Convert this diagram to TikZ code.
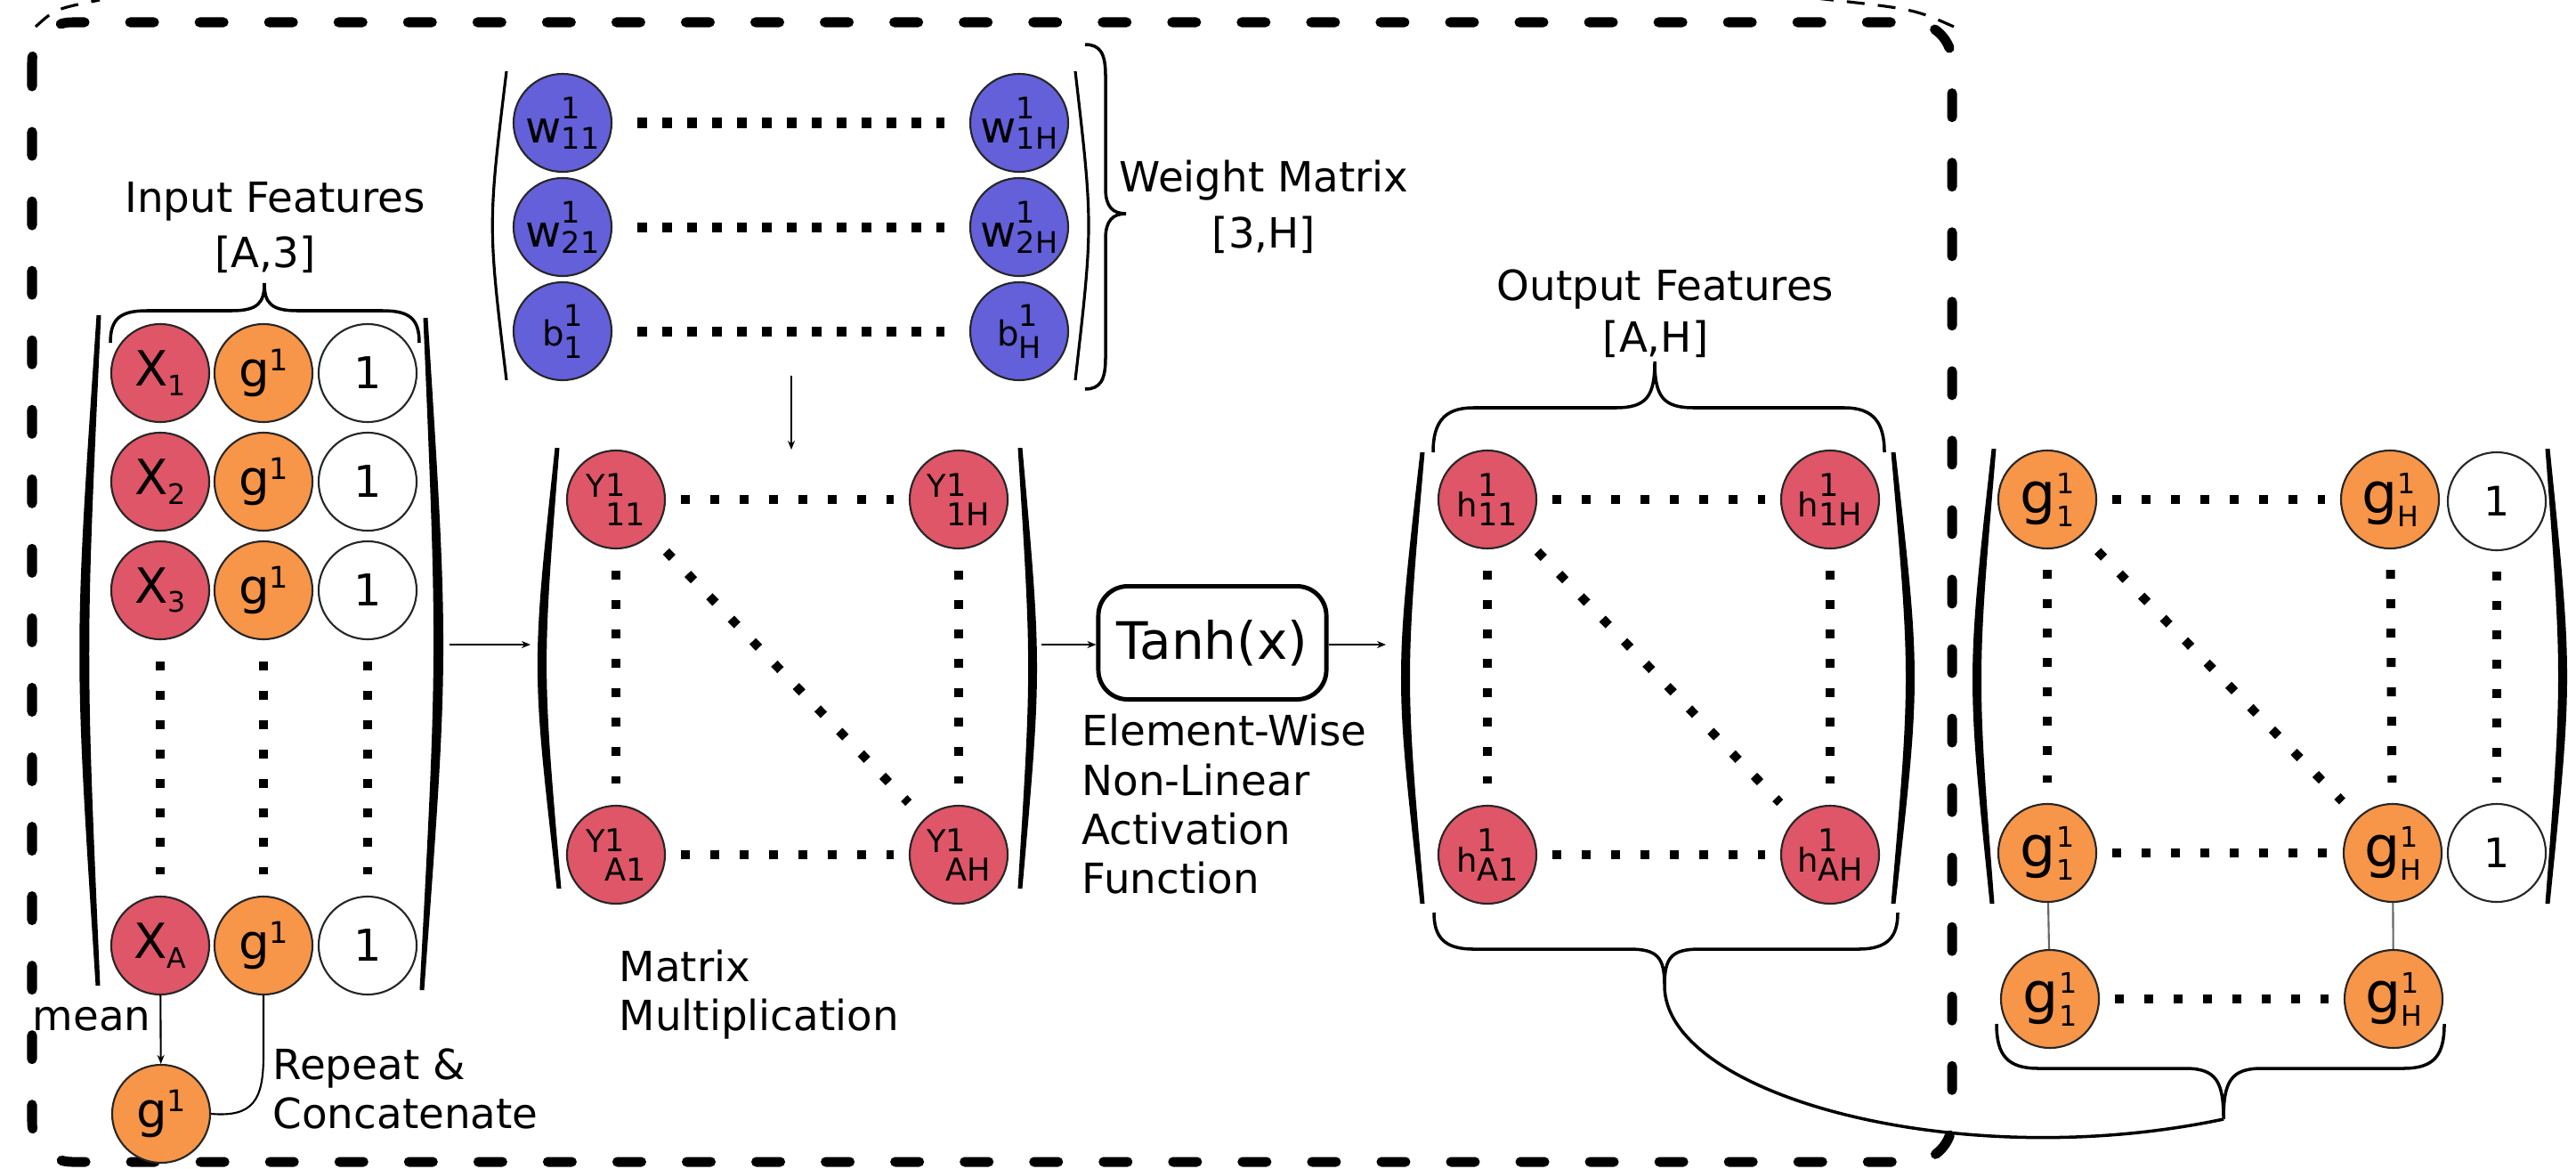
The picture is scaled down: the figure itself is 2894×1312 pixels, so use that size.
\documentclass[tikz,border=0pt]{standalone}
\usepackage{fontspec}
\setmainfont{DejaVu Sans}
\usetikzlibrary{arrows.meta}
\definecolor{cred}{RGB}{222,86,103}
\definecolor{corange}{RGB}{247,149,72}
\definecolor{cblue}{RGB}{99,96,218}
\newcommand\lab[7]{{\fontsize{#4}{#4}\selectfont #1}{\fontsize{#5}{#5}\selectfont\rlap{\raisebox{#6}{#2}}\raisebox{-#7}{#3}}}
\newcommand\wlab[1]{\lab{w}{1}{#1}{14pt}{9.5pt}{7.7pt}{2pt}}
\newcommand\blab[1]{\lab{b}{1}{#1}{11pt}{9.5pt}{6.3pt}{4pt}}
\newcommand\ylab[1]{\lab{Y}{1}{#1}{10pt}{10pt}{0.5pt}{9pt}}
\newcommand\hlab[1]{\lab{h}{1}{#1}{10.5pt}{10pt}{6.5pt}{2.8pt}}
\newcommand\grlab[1]{\lab{g}{1}{#1}{18pt}{9pt}{6.5pt}{4pt}}
\newcommand\xlab[1]{\lab{X}{}{#1}{15.5pt}{9pt}{0pt}{3pt}}
\newcommand\glab{{\fontsize{15.5pt}{15.5pt}\selectfont g}{\fontsize{9.5pt}{9.5pt}\selectfont\raisebox{5pt}{1}}}
\newcommand\onelab{{\fontsize{14pt}{14pt}\selectfont 1}}
\newcommand\onelabs{{\fontsize{13pt}{13pt}\selectfont 1}}
\begin{document}
\begin{tikzpicture}[x=0.01cm,y=-0.01cm,
 nd/.style={circle,minimum size=1.1cm,inner sep=0pt,draw=black!85,line width=0.6pt},
 rn/.style={nd,fill=cred},
 onode/.style={nd,fill=corange},
 bn/.style={nd,fill=cblue},
 wn/.style={nd,fill=white},
 dotl/.style={line width=0.1cm,dash pattern=on 0.1cm off 0.23cm},
 ddot/.style={line width=0.1cm,dash pattern=on 0.1cm off 0.25cm},
 wdot/.style={line width=0.11cm,dash pattern=on 0.11cm off 0.17cm},
 shr/.style={shorten <=#1,shorten >=#1},
 thinp/.style={line width=0.9pt},
 brc/.style={line width=1pt},
 arr/.style={line width=0.6pt,-{Stealth[length=0.1cm,width=0.08cm]}},
 lbl/.style={font=\fontsize{13.3pt}{16pt}\selectfont,inner sep=0pt},
 dborder/.style={line width=0.11cm,line cap=round,dash pattern=on 0.27cm off 0.51cm},
 gline/.style={draw=black!60,line width=0.6pt}
]
\fill[white] (0,0) rectangle (2894,1312);
\useasboundingbox (0,0) rectangle (2894,1312);

% dashed frame
\draw[dborder,rounded corners=0.45cm] (36,25) rectangle (2193,1305);
\draw[line width=0.9pt,dash pattern=on 0.2cm off 0.15cm] (40,30) .. controls (62,10) .. (112,0);
\draw[line width=0.9pt,dash pattern=on 0.2cm off 0.15cm] (2040,-2) .. controls (2150,10) .. (2195,30);

% ---------- input matrix ----------
\foreach \r/\yy/\s in {1/419/1,2/541/2,3/663/3,A/1062/A}{
  \node[rn] (x\r) at (180,\yy) {\xlab{\s}};
  \node[onode] (g\r) at (296,\yy) {\glab};
  \node[wn] (o\r) at (413,\yy) {\onelab};
}
\draw[dotl,shr=0.24cm] (x3) -- (xA);
\draw[dotl,shr=0.24cm] (g3) -- (gA);
\draw[dotl,shr=0.24cm] (o3) -- (oA);
\fill (108.5,354) .. controls (83,730) .. (107.5,1107) -- (112.5,1107) .. controls (96,730) .. (113.5,354) -- cycle;
\fill (480.5,357) .. controls (504.5,735) .. (476.5,1112) -- (471.5,1112) .. controls (491.5,735) .. (475.5,357) -- cycle;
\draw[brc] (124,385) .. controls (124,358) and (135,349) .. (165,349) -- (260,349) .. controls (290,349) and (297,340) .. (297,318)
  .. controls (297,340) and (304,349) .. (334,349) -- (430,349) .. controls (460,349) and (471,358) .. (471,385);
\node[lbl,anchor=base] (inf1) at (309,238) {Input Features};
\node[lbl,anchor=base] (inf2) at (298,300) {[A,3]};

\node[onode] (gm) at (181,1251) {\glab};
\draw[arr] (xA) -- (gm);
\draw[line width=0.6pt] (gm.east) .. controls (285,1255) and (296,1235) .. (296,1185) -- (gA.south);
\node[lbl,anchor=base] (mean) at (103,1157) {mean};
\node[lbl,anchor=base west] (rc1) at (306,1212) {Repeat \&};
\node[lbl,anchor=base west] (rc2) at (306,1267) {Concatenate};

% ---------- weight matrix ----------
\node[bn] (w11) at (632,138) {\wlab{11}};
\node[bn] (w21) at (632,255) {\wlab{21}};
\node[bn] (b1) at (632,372) {\blab{1}};
\node[bn] (w1H) at (1145,138) {\wlab{1H}};
\node[bn] (w2H) at (1145,255) {\wlab{2H}};
\node[bn] (bH) at (1145,372) {\blab{H}};
\draw[wdot,shr=0.28cm] (w11) -- (w1H);
\draw[wdot,shr=0.28cm] (w21) -- (w2H);
\draw[wdot,shr=0.28cm] (b1) -- (bH);
\draw[thinp] (569,80) .. controls (548,253) .. (569,427);
\draw[thinp] (1208,80) .. controls (1228,253) .. (1208,427);
\draw[brc] (1219,50) .. controls (1236,50) and (1242,60) .. (1242,85) -- (1242,212) .. controls (1242,232) and (1250,240) .. (1265,240)
  .. controls (1250,240) and (1242,248) .. (1242,268) -- (1242,402) .. controls (1242,427) and (1236,437) .. (1219,437);
\node[lbl,anchor=base] (wm1) at (1420,215) {Weight Matrix};
\node[lbl,anchor=base] (wm2) at (1420,278) {[3,H]};

% ---------- Y matrix ----------
\node[rn] (y11) at (692,561) {\ylab{11}};
\node[rn] (y1H) at (1077,561) {\ylab{1H}};
\node[rn] (yA1) at (692,960) {\ylab{A1}};
\node[rn] (yAH) at (1077,960) {\ylab{AH}};
\draw[dotl,shr=0.17cm] (y11) -- (y1H);
\draw[dotl,shr=0.17cm] (yA1) -- (yAH);
\draw[dotl,shr=0.24cm] (y11) -- (yA1);
\draw[dotl,shr=0.24cm] (y1H) -- (yAH);
\draw[ddot,shr=0.25cm] (y11) -- (yAH);
\fill (623.5,503) .. controls (597,750) .. (625.5,998) -- (630.5,998) .. controls (609,750) .. (628.5,503) -- cycle;
\fill (1148.5,503) .. controls (1170.5,750) .. (1148.5,998) -- (1143.5,998) .. controls (1159,750) .. (1143.5,503) -- cycle;
\node[lbl,anchor=base west] (mm1) at (695,1102) {Matrix};
\node[lbl,anchor=base west] (mm2) at (695,1157) {Multiplication};

\coordinate (inR) at (505,724);
\coordinate (yL) at (596,724);
\coordinate (wB) at (889,422);
\coordinate (yT) at (889,505);
\coordinate (yR) at (1170,724);
\coordinate (hL) at (1557,724);
\draw[arr] (inR) -- (yL);
\draw[arr] (wB) -- (yT);

% ---------- tanh ----------
\node[draw,line width=1.4pt,rounded corners=0.33cm,minimum width=2.56cm,minimum height=1.27cm,inner sep=0pt,
  font=\fontsize{16.5pt}{18pt}\selectfont] (tanh) at (1362,722) {Tanh(x)};
\draw[arr] (yR) -- (tanh.west |- yR);
\draw[arr] (tanh.east |- hL) -- (hL);
\node[lbl,anchor=base west] (ew1) at (1215,837) {Element-Wise};
\node[lbl,anchor=base west] (ew2) at (1215,893) {Non-Linear};
\node[lbl,anchor=base west] (ew3) at (1215,948) {Activation};
\node[lbl,anchor=base west] (ew4) at (1215,1003) {Function};

% ---------- output matrix ----------
\node[rn] (h11) at (1671,561) {\hlab{11}};
\node[rn] (h1H) at (2056,561) {\hlab{1H}};
\node[rn] (hA1) at (1671,960) {\hlab{A1}};
\node[rn] (hAH) at (2056,960) {\hlab{AH}};
\draw[dotl,shr=0.17cm] (h11) -- (h1H);
\draw[dotl,shr=0.17cm] (hA1) -- (hAH);
\draw[dotl,shr=0.24cm] (h11) -- (hA1);
\draw[dotl,shr=0.24cm] (h1H) -- (hAH);
\draw[ddot,shr=0.25cm] (h11) -- (hAH);
\fill (1595.5,508) .. controls (1566.8,761) .. (1595.5,1015) -- (1600.5,1015) .. controls (1578.5,761) .. (1600.5,508) -- cycle;
\fill (2129.5,508) .. controls (2158.1,761) .. (2129.5,1015) -- (2124.5,1015) .. controls (2146.5,761) .. (2124.5,508) -- cycle;
\draw[brc] (1610,508) .. controls (1610,475) and (1622,458) .. (1655,458) -- (1815,458) .. controls (1850,458) and (1859,445) .. (1859,406)
  .. controls (1859,445) and (1868,458) .. (1903,458) -- (2072,458) .. controls (2105,458) and (2117,475) .. (2117,508);
\node[lbl,anchor=base] (of1) at (1871,337) {Output Features};
\node[lbl,anchor=base] (of2) at (1860,395) {[A,H]};
\coordinate (obT) at (1870,1107);
\draw[brc] (1611,1025) .. controls (1611,1052) and (1622,1066) .. (1655,1066) -- (1830,1066) .. controls (1862,1066) and (1870,1075) .. (obT)
  .. controls (1870,1075) and (1878,1066) .. (1910,1066) -- (2088,1066) .. controls (2121,1066) and (2132,1052) .. (2132,1025);

% ---------- right matrix ----------
\node[onode] (r11) at (2300,561) {\grlab{1}};
\node[onode] (r1H) at (2685,561) {\grlab{H}};
\node[wn] (q1) at (2805,563) {\onelabs};
\node[onode] (r21) at (2300,958) {\grlab{1}};
\node[onode] (r2H) at (2688,958) {\grlab{H}};
\node[wn] (q2) at (2805,958) {\onelabs};
\node[onode] (s1) at (2303,1122) {\grlab{1}};
\node[onode] (sH) at (2689,1122) {\grlab{H}};
\draw[dotl,shr=0.17cm] (r11) -- (r1H);
\draw[dotl,shr=0.17cm] (r21) -- (r2H);
\draw[dotl,shr=0.17cm] (s1) -- (sH);
\draw[dotl,shr=0.23cm] (r11) -- (r21);
\draw[dotl,shr=0.23cm] (r1H) -- (r2H);
\draw[dotl,shr=0.23cm] (q1) -- (q2);
\draw[ddot,shr=0.25cm] (r11) -- (r2H);
\draw[gline] (r21) -- (s1);
\draw[gline] (r2H) -- (sH);
\fill (2237.5,504) .. controls (2209.2,760) .. (2235.5,1015) -- (2240.5,1015) .. controls (2220.8,760) .. (2242.5,504) -- cycle;
\fill (2864.5,504) .. controls (2890.5,760) .. (2864.5,1015) -- (2859.5,1015) .. controls (2878.8,760) .. (2859.5,504) -- cycle;
\coordinate (rbT) at (2498,1257);
\draw[brc] (2243,1150) .. controls (2243,1185) and (2255,1200) .. (2290,1200) -- (2455,1200) .. controls (2490,1200) and (2498,1215) .. (rbT)
  .. controls (2498,1215) and (2506,1200) .. (2541,1200) -- (2700,1200) .. controls (2735,1200) and (2746,1185) .. (2746,1150);
\draw[brc] (obT) .. controls +(0,123) and +(-298,63) .. (rbT);
\end{tikzpicture}
\end{document}
